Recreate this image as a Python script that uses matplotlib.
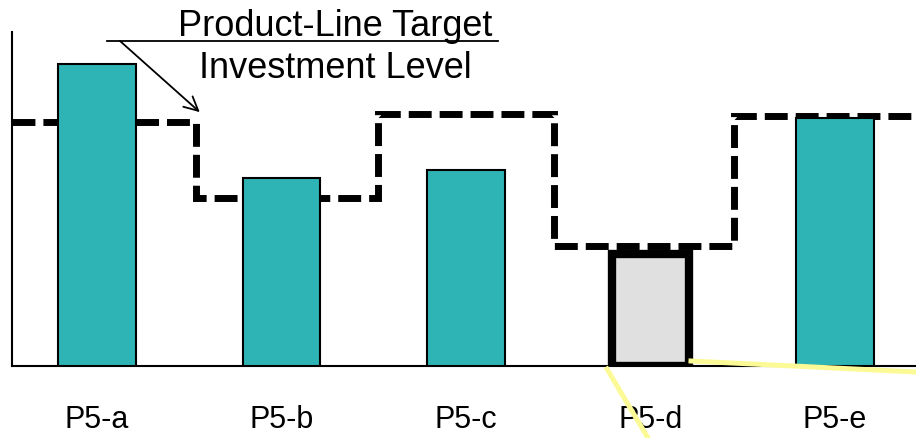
import matplotlib.pyplot as plt
from matplotlib.lines import Line2D

plt.rcParams['font.family'] = ['Liberation Sans', 'DejaVu Sans']

products = ['P5-a', 'P5-b', 'P5-c', 'P5-d', 'P5-e']
investment = [90.4, 56.3, 58.7, 33.4, 74.3]
target = [73.1, 50.3, 75.4, 36.0, 74.9]
target_edges = [-0.46, 0.537, 1.523, 2.477, 3.453, 4.44]
bar_colors = ['#2eb4b4', '#2eb4b4', '#2eb4b4', '#e0e0e0', '#2eb4b4']
bar_lw = [1.5, 1.5, 1.5, 6, 1.5]

W, H = 916, 439
fig = plt.figure(figsize=(W / 100, H / 100), dpi=100)
ax = fig.add_axes([12 / W, 1 - 367 / H, 904 / W, 334 / H])

x = range(len(products))
ax.bar(x, investment, width=0.42, color=bar_colors, edgecolor='black',
       linewidth=bar_lw, zorder=3)
ax.stairs(target, target_edges, baseline=None, color='black', lw=5,
          linestyle=(0, (3.3, 1.15)), zorder=2, joinstyle='miter')

ax.set_xlim(-0.46, 4.44)
ax.set_ylim(0, 100)
ax.set_xticks(list(x))
ax.set_xticklabels(products, fontsize=22)
ax.tick_params(axis='x', length=0, pad=27)
ax.set_yticks([])
for s in ['top', 'right']:
    ax.spines[s].set_visible(False)
for s in ['left', 'bottom']:
    ax.spines[s].set_linewidth(1.5)

# annotation
fig.text(335 / W, 1 - 36 / H, 'Product-Line Target', fontsize=26,
         ha='center', va='baseline')
fig.text(335 / W, 1 - 78 / H, 'Investment Level', fontsize=26,
         ha='center', va='baseline')
fig.add_artist(Line2D([107 / W, 498 / W], [1 - 42 / H, 1 - 42 / H],
                      color='black', lw=1.3))
ax.annotate('', xy=(0.558, 76.0), xycoords='data',
            xytext=(120 / W, 1 - 42 / H), textcoords='figure fraction',
            arrowprops=dict(arrowstyle='->', color='black', lw=1.3,
                            mutation_scale=25, shrinkA=0, shrinkB=0))

# yellow pointer lines
yellow = '#fcfa96'
fig.add_artist(Line2D([691 / W, 1.0], [1 - 362 / H, 1 - 373 / H],
                      color=yellow, lw=3.6))
fig.add_artist(Line2D([607 / W, 648 / W], [1 - 370 / H, 0.0],
                      color=yellow, lw=3.6))

fig.savefig('out.png', dpi=100)
